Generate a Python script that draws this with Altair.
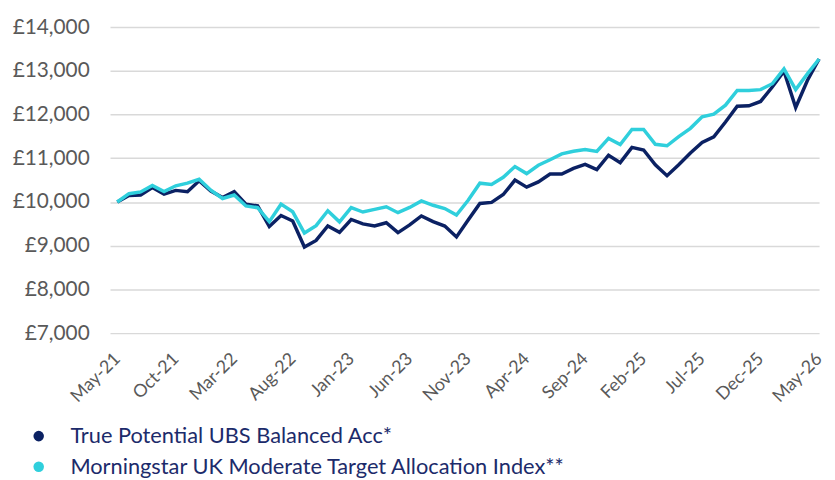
import altair as alt
import pandas as pd

tick_labels = ["May-21", "Oct-21", "Mar-22", "Aug-22", "Jan-23", "Jun-23", "Nov-23",
               "Apr-24", "Sep-24", "Feb-25", "Jul-25", "Dec-25", "May-26"]

series_names = ["True Potential UBS Balanced Acc*",
                "Morningstar UK Moderate Target Allocation Index**"]
series_colors = ["#0b2163", "#2fcfdc"]

fund = [10000, 10150, 10160, 10330, 10180, 10265, 10235, 10485, 10250, 10100,
        10235, 9950, 9910, 9440, 9690, 9565, 8970, 9120, 9450, 9305,
        9600, 9500, 9450, 9525, 9300, 9475, 9680, 9550, 9450, 9200,
        9590, 9965, 9990, 10170, 10500, 10340, 10460, 10640, 10640, 10770,
        10860, 10740, 11070, 10900, 11250, 11190, 10850, 10600, 10850, 11120,
        11360, 11490, 11830, 12190, 12200, 12300, 12630, 12990, 12160, 12780,
        13270]

benchmark = [10000, 10190, 10230, 10380, 10240, 10370, 10430, 10520, 10270, 10080,
             10160, 9910, 9870, 9550, 9950, 9775, 9290, 9460, 9800, 9545,
             9870, 9770, 9830, 9890, 9755, 9875, 10025, 9925, 9850, 9700,
             10040, 10430, 10400, 10565, 10810, 10650, 10840, 10965, 11100, 11160,
             11200, 11155, 11455, 11315, 11660, 11660, 11320, 11285, 11495, 11685,
             11950, 12010, 12215, 12550, 12550, 12570, 12705, 13045, 12570, 12930,
             13270]

rows = []
for name, vals in zip(series_names, [fund, benchmark]):
    for i, v in enumerate(vals):
        rows.append({"m": i, "value": v, "series": name})
df = pd.DataFrame(rows)

label_expr = "[" + ",".join(f"'{t}'" for t in tick_labels) + "][round(datum.value/5)]"

FONT = "Lato"
GREY = "#595959"

x_enc = alt.X(
    "m:Q",
    scale=alt.Scale(domain=[-0.62, 60], nice=False, zero=False),
    axis=alt.Axis(values=list(range(0, 61, 5)), labelExpr=label_expr, labelAngle=-45,
                  labelAlign="right", labelBaseline="middle", labelPadding=23,
                  grid=False, domain=False, ticks=False, labelFontSize=18,
                  labelColor=GREY, labelFont=FONT, title=None, labelOverlap=False),
)
y_enc = alt.Y(
    "value:Q",
    scale=alt.Scale(domain=[7000, 14000], nice=False, zero=False),
    axis=alt.Axis(values=list(range(7000, 14001, 1000)),
                  labelExpr="'£' + format(datum.value, ',')",
                  grid=True, gridColor="#d9d9d9", gridWidth=1.5,
                  domain=False, ticks=False, labelPadding=21, labelFontSize=21,
                  labelColor=GREY, labelFont=FONT, title=None),
)

lines = alt.Chart(df).mark_line(strokeWidth=3.5).encode(
    x=x_enc,
    y=y_enc,
    color=alt.Color("series:N",
                    scale=alt.Scale(domain=series_names, range=series_colors),
                    legend=None),
)

legend_layer = alt.Chart(df).transform_filter("datum.m < 0").mark_point(
    filled=True, opacity=1
).encode(
    x=alt.X("m:Q"),
    y=alt.Y("value:Q"),
    fill=alt.Fill("series:N",
                  scale=alt.Scale(domain=series_names, range=series_colors),
                  legend=alt.Legend(orient="none", legendX=-83, legendY=402,
                                    title=None, direction="vertical",
                                    labelFont=FONT, labelFontSize=22,
                                    labelColor="#1c2b6b", labelLimit=800,
                                    symbolType="circle", symbolSize=113,
                                    symbolStrokeWidth=0, symbolOpacity=1,
                                    labelOffset=21, rowPadding=9, padding=0)),
)

chart = alt.layer(legend_layer, lines).properties(
    width=716,
    height=309,
    autosize=alt.AutoSizeParams(type="none"),
    padding={"left": 103, "top": 17, "right": 8, "bottom": 146},
).configure_view(stroke=None)

chart.save("out.html", embed_options={"renderer": "svg", "actions": False})
